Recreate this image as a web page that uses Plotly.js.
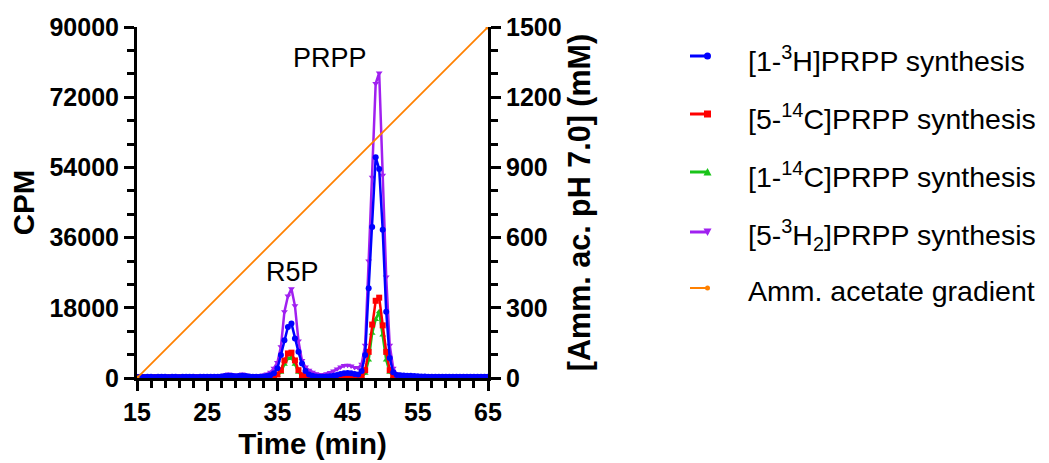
<!DOCTYPE html>
<html>
<head>
<meta charset="utf-8">
<script src="https://cdn.plot.ly/plotly-3.0.1.min.js"></script>
<style>html,body{margin:0;padding:0;background:#fff;}#chart{width:1049px;height:463px;}</style>
</head>
<body>
<div id="chart"></div>
<script>
// Time points (min)
const time = [15,15.5,16,16.5,17,17.5,18,18.5,19,19.5,20,20.5,21,21.5,22,22.5,23,23.5,24,24.5,25,25.5,26,
  26.5,27,27.5,28,28.5,29,29.5,30,30.5,31,31.5,32,32.5,33,
  33.5,34,34.5,35,35.5,36,36.5,37,37.5,38,38.5,39,39.5,40,40.5,41,41.5,42,42.5,43,43.5,44,44.5,45,45.5,46,46.5,47,47.5,48,48.5,49,49.5,50,50.5,51,51.5,52,52.5,53,53.5,54,54.5,55,
  55.5,56,56.5,57,57.5,58,58.5,59,59.5,60,60.5,61,61.5,62,62.5,63,63.5,64,64.5,65];

// [1-3H]PRPP synthesis (CPM)
const h3_1 = [250,300,280,320,300,260,310,290,300,280,320,300,270,300,290,310,300,280,300,290,310,300,320,
  350,400,500,600,550,450,500,600,500,400,350,300,350,400,
  500,700,1200,2500,5900,9700,13100,14000,10100,6700,3700,1800,900,600,400,350,350,400,450,600,800,1000,1200,1300,1200,1000,900,1800,5900,23000,38700,56600,53600,38000,17000,5100,1500,800,700,650,600,550,500,450,
  400,380,350,350,330,320,300,300,300,300,290,300,300,300,300,300,300,300,300,300];

// [5-14C]PRPP synthesis (CPM)
const c14_5 = [150,160,150,140,150,160,150,150,140,150,160,150,150,140,150,160,150,150,150,140,150,160,150,
  180,200,220,250,230,200,220,250,220,200,180,170,180,200,
  250,300,500,900,2000,4500,6300,6500,4500,2000,700,300,200,150,150,150,150,160,170,180,200,220,250,300,300,300,300,600,2000,6700,13700,19800,20600,13500,6700,2000,500,250,200,180,170,160,160,150,
  150,150,150,140,150,150,150,150,140,150,150,150,150,150,140,150,150,150,150,150];

// [1-14C]PRPP synthesis (CPM)
const c14_1 = [120,130,120,110,120,130,120,120,110,120,130,120,120,110,120,130,120,120,120,110,120,130,120,
  150,170,180,200,190,170,180,200,180,170,150,140,150,170,
  200,250,400,700,1500,3500,5000,5300,3500,1500,500,200,150,120,120,120,120,130,140,150,160,180,200,220,220,220,220,300,1200,4600,11500,15000,17000,11000,4600,1500,400,200,170,150,140,130,130,120,
  120,120,120,110,120,120,120,120,110,120,120,120,120,120,110,120,120,120,120,120];

// [5-3H2]PRPP synthesis (CPM)
const h3_5 = [400,450,420,400,380,420,450,400,420,400,380,420,450,400,430,400,420,450,400,420,430,400,450,
  500,600,800,1000,900,700,800,1000,800,600,500,500,600,800,
  1000,1500,2500,4000,8000,17000,21000,22900,18500,9500,4500,2800,2000,1500,1100,900,900,1100,1400,1800,2300,2800,3200,3300,3100,2700,2600,3500,8400,30000,51500,75500,78200,52000,25900,8400,2500,1000,800,700,650,600,600,550,
  550,500,500,500,480,500,500,480,500,500,480,500,500,480,500,500,480,500,500,500];

// Ammonium acetate gradient (mM)
const gradTime = [15, 65];
const gradConc = [0, 1500];

const seriesNames = [
  '[1-<sup>3</sup>H]PRPP synthesis',
  '[5-<sup>14</sup>C]PRPP synthesis',
  '[1-<sup>14</sup>C]PRPP synthesis',
  '[5-<sup>3</sup>H<sub>2</sub>]PRPP synthesis',
  'Amm. acetate gradient'
];
const colors = ['#0000ff', '#ff0000', '#19c419', '#a020f0', '#ff8000'];
const symbols = ['circle', 'square', 'triangle-up', 'triangle-down', 'circle'];

const ys = [h3_1, c14_5, c14_1, h3_5];
const drawOrder = [3, 2, 1, 0];
const traces = [];
drawOrder.forEach(i => {
  traces.push({
    x: time, y: ys[i], type: 'scatter', mode: 'lines+markers', name: seriesNames[i],
    showlegend: false,
    line: {color: colors[i], width: 2.5},
    marker: {color: colors[i], symbol: symbols[i], size: 6},
    yaxis: 'y', xaxis: 'x'
  });
});
traces.push({
  x: gradTime, y: gradConc, type: 'scatter', mode: 'lines+markers', name: seriesNames[4],
  showlegend: false,
  line: {color: colors[4], width: 1.8},
  marker: {color: colors[4], symbol: symbols[4], size: 5},
  yaxis: 'y2', xaxis: 'x'
});

const FAM = 'Liberation Sans, Arial, sans-serif';
const tickFont = {family: FAM, size: 25, color: '#000', weight: 'bold'};
const titleFont = {family: FAM, size: 29.5, color: '#000', weight: 'bold'};

// plot area in pixels (for custom legend placement)
const PL = 137, PR = 488, PT = 27, PB = 378;
const px = v => (v - PL) / (PR - PL);
const py = v => (PB - v) / (PB - PT);

// custom legend (line sample with marker at its right end, as in the reference)
const legendY = [56, 114, 172, 232, 288];
const shapes = [];
const annotations = [];
legendY.forEach((yy, i) => {
  const lw = i === 4 ? 2 : 3;
  shapes.push({type: 'line', xref: 'paper', yref: 'paper', x0: px(690), x1: px(709), y0: py(yy), y1: py(yy),
               line: {color: colors[i], width: lw}});
  const cx = 707.5, r = i === 4 ? 2.5 : 3.5;
  let s;
  if (symbols[i] === 'circle') {
    s = {type: 'circle', x0: px(cx - r), x1: px(cx + r), y0: py(yy + r), y1: py(yy - r)};
  } else if (symbols[i] === 'square') {
    s = {type: 'rect', x0: px(cx - r), x1: px(cx + r), y0: py(yy + r), y1: py(yy - r)};
  } else if (symbols[i] === 'triangle-up') {
    s = {type: 'path', path: `M${px(cx - r - 0.5)},${py(yy + r)} L${px(cx + r + 0.5)},${py(yy + r)} L${px(cx)},${py(yy - r - 0.5)} Z`};
  } else {
    s = {type: 'path', path: `M${px(cx - r - 0.5)},${py(yy - r)} L${px(cx + r + 0.5)},${py(yy - r)} L${px(cx)},${py(yy + r + 0.5)} Z`};
  }
  s.xref = 'paper'; s.yref = 'paper';
  s.fillcolor = colors[i]; s.line = {color: colors[i], width: 0};
  shapes.push(s);
  annotations.push({xref: 'paper', yref: 'paper', x: px(746), y: py(yy + 3), xanchor: 'left', yanchor: 'middle',
    text: seriesNames[i], showarrow: false, font: {family: FAM, size: 28.5, color: '#000'}});
});

annotations.push({x: 42.5, y: 82000, xref: 'x', yref: 'y', text: 'PRPP', showarrow: false, yanchor: 'middle',
  font: {family: FAM, size: 27, color: '#000'}});
annotations.push({x: 37.2, y: 27100, xref: 'x', yref: 'y', text: 'R5P', showarrow: false, yanchor: 'middle',
  font: {family: FAM, size: 27, color: '#000'}});

const layout = {
  width: 1049, height: 463,
  margin: {l: PL, r: 1049 - PR, t: PT, b: 463 - PB},
  paper_bgcolor: '#fff', plot_bgcolor: '#fff',
  showlegend: false,
  xaxis: {
    range: [15, 65], tick0: 15, dtick: 10, showgrid: false, zeroline: false,
    showline: true, linecolor: '#000', linewidth: 3,
    ticks: 'outside', ticklen: 10, tickwidth: 3, tickcolor: '#000',
    tickfont: tickFont,
    minor: {dtick: 2, tick0: 15, ticks: 'outside', ticklen: 7, tickwidth: 3, tickcolor: '#000', showgrid: false},
    title: {text: 'Time (min)', font: titleFont, standoff: 9}
  },
  yaxis: {
    range: [0, 90000], tick0: 0, dtick: 18000, showgrid: false, zeroline: false,
    showline: true, linecolor: '#000', linewidth: 3,
    ticks: 'outside', ticklen: 10, tickwidth: 3, tickcolor: '#000',
    tickfont: tickFont, tickformat: 'd',
    minor: {dtick: 6000, ticks: 'outside', ticklen: 7, tickwidth: 3, tickcolor: '#000', showgrid: false},
    title: {text: 'CPM', font: titleFont, standoff: 7}
  },
  yaxis2: {
    range: [0, 1500], tick0: 0, dtick: 300, overlaying: 'y', side: 'right',
    showgrid: false, zeroline: false,
    showline: true, linecolor: '#000', linewidth: 3,
    ticks: 'outside', ticklen: 10, tickwidth: 3, tickcolor: '#000',
    tickfont: tickFont,
    minor: {dtick: 100, ticks: 'outside', ticklen: 7, tickwidth: 3, tickcolor: '#000', showgrid: false},
    title: {text: '[Amm. ac. pH 7.0] (mM)', font: {family: FAM, size: 30.5, color: '#000', weight: 'bold'}, standoff: 3}
  },
  shapes: shapes,
  annotations: annotations
};

Plotly.newPlot('chart', traces, layout, {displayModeBar: false, staticPlot: true});
</script>
</body>
</html>
